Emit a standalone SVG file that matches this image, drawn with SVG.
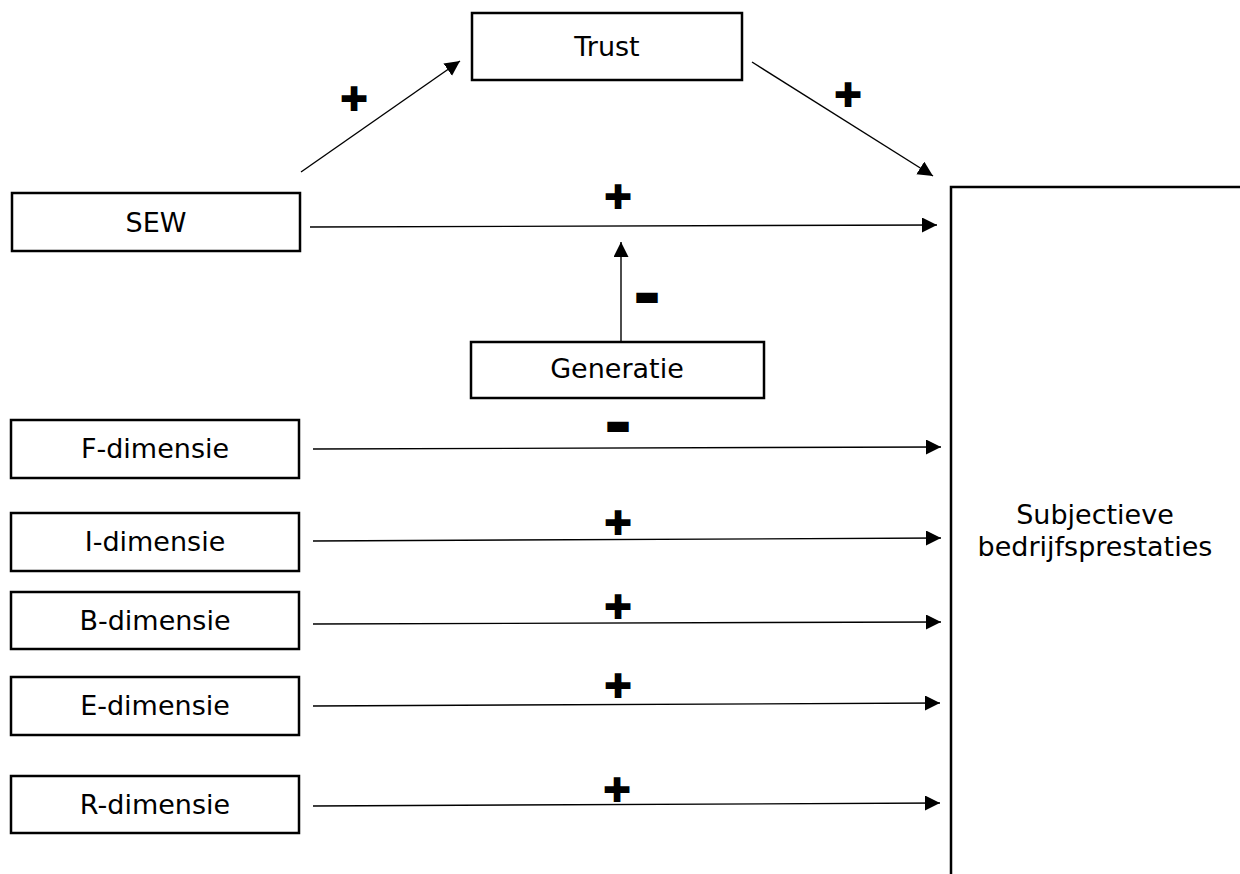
<svg xmlns="http://www.w3.org/2000/svg" width="1240" height="874" viewBox="0 0 1240 874">
<defs>
<marker id="ah" markerUnits="userSpaceOnUse" markerWidth="16" markerHeight="16" refX="15" refY="7.5" orient="auto">
<path d="M0,0 L15,7.5 L0,15 z" fill="#000"/>
</marker>
<style>
.box{fill:#fff;stroke:#000;stroke-width:2.5}
.lbl{font-family:"DejaVu Sans","Verdana",sans-serif;font-size:27px;fill:#000;text-anchor:middle}
.con{stroke:#000;stroke-width:1.4;fill:none;marker-end:url(#ah)}
.plus{font-family:"DejaVu Sans",sans-serif;font-size:34px;fill:#000;text-anchor:middle;font-weight:bold}
.minus{font-family:"DejaVu Sans",sans-serif;font-size:28px;fill:#000;text-anchor:middle;font-weight:bold}
</style>
</defs>
<rect width="1240" height="874" fill="#fff"/>
<g id="trust"><rect class="box" x="472" y="13" width="270" height="67"/><text class="lbl" x="607" y="56">Trust</text></g>
<g id="sew"><rect class="box" x="12" y="193" width="288" height="58"/><text class="lbl" x="156" y="232">SEW</text></g>
<g id="generatie"><rect class="box" x="471" y="342" width="293" height="56"/><text class="lbl" x="617" y="378">Generatie</text></g>
<g id="f-dimensie"><rect class="box" x="11" y="420" width="288" height="58"/><text class="lbl" x="155" y="458">F-dimensie</text></g>
<g id="i-dimensie"><rect class="box" x="11" y="513" width="288" height="58"/><text class="lbl" x="155" y="551">I-dimensie</text></g>
<g id="b-dimensie"><rect class="box" x="11" y="592" width="288" height="57"/><text class="lbl" x="155" y="630">B-dimensie</text></g>
<g id="e-dimensie"><rect class="box" x="11" y="677" width="288" height="58"/><text class="lbl" x="155" y="715">E-dimensie</text></g>
<g id="r-dimensie"><rect class="box" x="11" y="776" width="288" height="57"/><text class="lbl" x="155" y="814">R-dimensie</text></g>
<g id="subjectieve"><path d="M1241,187 H951 V875" fill="none" stroke="#000" stroke-width="2.5"/><text class="lbl" x="1095" y="524">Subjectieve</text><text class="lbl" x="1095" y="556">bedrijfsprestaties</text></g>
<g id="connectors">
<line class="con" x1="301" y1="172" x2="460" y2="61"/>
<line class="con" x1="752" y1="62" x2="933" y2="176"/>
<line class="con" x1="310" y1="227" x2="937" y2="225"/>
<line class="con" x1="621" y1="342" x2="621" y2="242"/>
<line class="con" x1="313" y1="449" x2="941" y2="447"/>
<line class="con" x1="313" y1="541" x2="941" y2="538"/>
<line class="con" x1="313" y1="624" x2="941" y2="622"/>
<line class="con" x1="313" y1="706" x2="940" y2="703"/>
<line class="con" x1="313" y1="806" x2="940" y2="803"/>
</g>
<g id="signs">
<text class="plus" x="354" y="111">✚</text>
<text class="plus" x="848" y="107">✚</text>
<text class="plus" x="618" y="209">✚</text>
<text class="plus" x="618" y="535">✚</text>
<text class="plus" x="618" y="619">✚</text>
<text class="plus" x="618" y="698">✚</text>
<text class="plus" x="617" y="802">✚</text>
<text class="minus" x="647" y="305">▬</text>
<text class="minus" x="618" y="434">▬</text>
</g>
</svg>
